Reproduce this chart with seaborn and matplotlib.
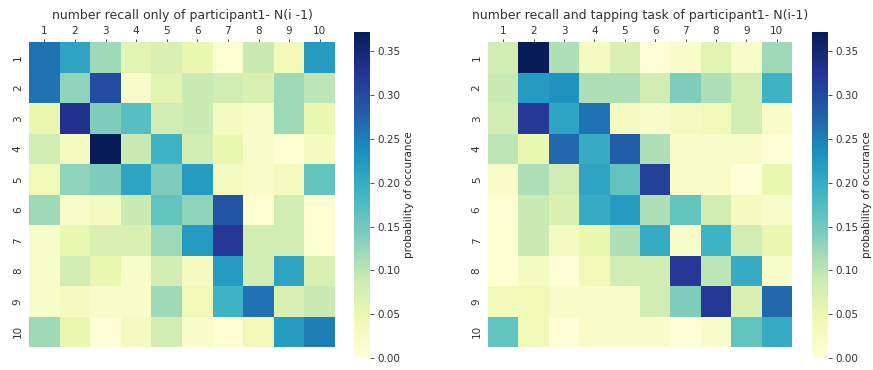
import numpy as np
import pandas as pd
import matplotlib
matplotlib.use('Agg')
import matplotlib.pyplot as plt
import seaborn as sns

labels = [str(i) for i in range(1, 11)]

# number recall only (rows: N(i-1), cols: N(i))
recall_only = np.array([
    [0.26, 0.21, 0.12, 0.06, 0.07, 0.05, 0.01, 0.09, 0.04, 0.22],
    [0.26, 0.13, 0.30, 0.02, 0.06, 0.09, 0.08, 0.07, 0.12, 0.10],
    [0.05, 0.33, 0.14, 0.17, 0.08, 0.09, 0.03, 0.02, 0.12, 0.05],
    [0.08, 0.03, 0.372, 0.09, 0.19, 0.08, 0.05, 0.02, 0.01, 0.03],
    [0.04, 0.13, 0.14, 0.21, 0.14, 0.22, 0.03, 0.02, 0.03, 0.16],
    [0.12, 0.02, 0.03, 0.09, 0.16, 0.13, 0.29, 0.01, 0.08, 0.01],
    [0.02, 0.05, 0.07, 0.07, 0.12, 0.22, 0.32, 0.08, 0.08, 0.01],
    [0.02, 0.08, 0.05, 0.02, 0.08, 0.03, 0.22, 0.08, 0.21, 0.07],
    [0.02, 0.03, 0.02, 0.02, 0.12, 0.04, 0.19, 0.26, 0.07, 0.09],
    [0.12, 0.05, 0.005, 0.03, 0.08, 0.02, 0.01, 0.04, 0.22, 0.25],
])

# number recall and tapping task
recall_tapping = np.array([
    [0.08, 0.372, 0.11, 0.03, 0.07, 0.005, 0.02, 0.06, 0.02, 0.12],
    [0.09, 0.22, 0.23, 0.11, 0.11, 0.08, 0.14, 0.11, 0.08, 0.19],
    [0.08, 0.32, 0.21, 0.26, 0.03, 0.02, 0.03, 0.04, 0.08, 0.02],
    [0.10, 0.05, 0.27, 0.20, 0.28, 0.11, 0.02, 0.02, 0.02, 0.005],
    [0.02, 0.11, 0.08, 0.21, 0.16, 0.31, 0.02, 0.02, 0.005, 0.05],
    [0.01, 0.09, 0.07, 0.20, 0.22, 0.11, 0.16, 0.08, 0.03, 0.02],
    [0.01, 0.09, 0.03, 0.05, 0.11, 0.20, 0.02, 0.19, 0.08, 0.05],
    [0.01, 0.03, 0.005, 0.04, 0.08, 0.08, 0.32, 0.10, 0.20, 0.02],
    [0.04, 0.04, 0.02, 0.02, 0.02, 0.08, 0.14, 0.32, 0.07, 0.27],
    [0.16, 0.04, 0.005, 0.02, 0.02, 0.02, 0.005, 0.02, 0.16, 0.20],
])

titles = ['number recall only of participant1- N(i -1)',
          'number recall and tapping task of participant1- N(i-1)']

sns.set_style('white')
plt.rcParams['text.color'] = '#333333'
plt.rcParams['xtick.color'] = '#333333'
plt.rcParams['ytick.color'] = '#333333'

fig = plt.figure(figsize=(8.73, 3.70), dpi=100)
W, H = 873, 370

def box(x0, y0, x1, y1):
    return [x0 / W, 1 - y1 / H, (x1 - x0) / W, (y1 - y0) / H]

axes = [fig.add_axes(box(29, 42, 335, 347)), fig.add_axes(box(488, 42, 792, 347))]
caxes = [fig.add_axes(box(354, 32, 370, 358)), fig.add_axes(box(812, 32, 828, 358))]

for ax, cax, mat, title in zip(axes, caxes, [recall_only, recall_tapping], titles):
    df = pd.DataFrame(mat, index=labels, columns=labels)
    sns.heatmap(df, ax=ax, cbar_ax=cax, cmap='YlGnBu', vmin=0)
    ax.xaxis.tick_top()
    ax.tick_params(axis='both', labelsize=7.5, length=2.5, width=0.6, pad=2)
    ax.set_yticklabels(labels, rotation=90, va='center')
    ax.set_xticklabels(labels, rotation=0)
    ax.set_title(title, fontsize=9, pad=5)
    cax.tick_params(labelsize=7.5, length=3, width=0.6, pad=2)
    cax.set_yticks([0, 0.05, 0.1, 0.15, 0.2, 0.25, 0.3, 0.35])
    cax.set_ylabel('probability of occurance', fontsize=7.5, labelpad=3)

fig.savefig('out.png', dpi=100)
